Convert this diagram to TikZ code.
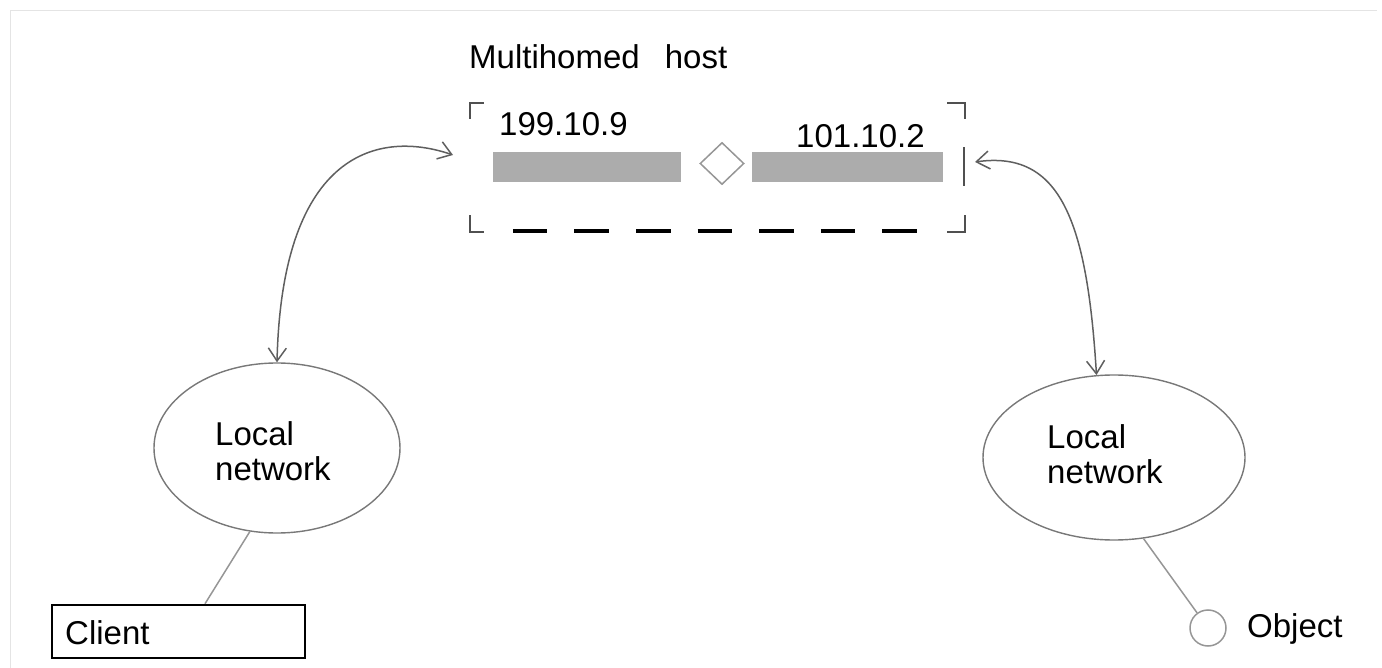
\documentclass[tikz,border=0pt]{standalone}
\usepackage{fontspec}
\setmainfont{Liberation Sans}
\usetikzlibrary{arrows.meta,shapes.geometric}

\definecolor{tickgray}{RGB}{80,80,80}
\definecolor{bargray}{RGB}{172,172,172}
\definecolor{linegray}{RGB}{150,150,150}
\definecolor{curvegray}{RGB}{95,95,95}
\definecolor{edgegray}{RGB}{120,120,120}
\definecolor{framegray}{RGB}{228,228,228}

\begin{document}
\begin{tikzpicture}[x=1pt,y=-1pt,
  label/.style={font=\fontsize{33}{35}\selectfont, inner sep=0pt, anchor=base west},
  cornertick/.style={draw=tickgray, line width=2pt},
  basedash/.style={draw=black, line width=3.5pt},
  ifbar/.style={rectangle, fill=bargray, draw=none, inner sep=0pt},
  joint/.style={diamond, draw=linegray, line width=1.5pt, fill=white, inner sep=0pt,
    minimum width=44pt, minimum height=42pt},
  lan/.style={ellipse, draw=edgegray, line width=1.4pt, inner sep=0pt},
  link/.style={draw=curvegray, line width=1.5pt,
    {Straight Barb[length=13pt,width=18pt]}-{Straight Barb[length=13pt,width=18pt]}},
  wire/.style={draw=linegray, line width=1.5pt},
  clientbox/.style={rectangle, draw=black, line width=2.5pt, minimum width=253pt,
    minimum height=53pt, inner sep=0pt},
  objdot/.style={circle, draw=linegray, line width=1.5pt, minimum size=36pt, inner sep=0pt}]

\useasboundingbox (0,0) rectangle (1382,668);

% thin frame
\draw[framegray, line width=1pt] (10.5,668) -- (10.5,11) -- (1377,11);

% multihomed host with its two interfaces
\node[label] (hosttitle) at (469,69) {Multihomed\hspace{16pt} host};
\node[rectangle, draw=none, inner sep=0pt, minimum width=495pt, minimum height=129pt]
  (host) at (717.5,167.5) {};

\draw[cornertick] (host.north west) ++(0,16) -- ++(0,-16) -- ++(14,0);
\draw[cornertick] (host.north east) ++(-18,0) -- ++(18,0) -- ++(0,16);
\draw[cornertick] (host.south west) ++(0,-17) -- ++(0,17) -- ++(14,0);
\draw[cornertick] (host.south east) ++(-18,0) -- ++(18,0) -- ++(0,-17);
\draw[cornertick] (host.east) ++(-1,-20) -- ++(0,39);
\foreach \i in {0,...,6}
  \draw[basedash] (host.south west) ++(43+61.6*\i,-1) -- ++(34.5,0);

\node[ifbar, minimum width=188pt, minimum height=30pt] (barL) at (587,166.7) {};
\node[ifbar, minimum width=191pt, minimum height=30pt] (barR) at (847.5,166.7) {};
\node[joint] (hub) at (722,163.5) {};
\node[label] (ipL) at (499,136) {199.10.9};
\node[label] (ipR) at (796,148) {101.10.2};

\coordinate (hostW) at (453,155);
\coordinate (hostE) at (975,162);

% local networks
\node[lan, minimum width=246pt, minimum height=170pt] (netL) at (277,448) {};
\node[lan, minimum width=262pt, minimum height=165pt] (netR) at (1114,457.5) {};
\node[label, align=left] (netLtext) at (215,480) {Local\\network};
\node[label, align=left] (netRtext) at (1047,483) {Local\\network};

% links between host and networks
\draw[link] (netL.north) .. controls (282,150) and (380,130) .. (hostW);
\draw[link] (netR.102) .. controls (1087,220) and (1060,150) .. (hostE);

% client and object
\node[clientbox] (client) at (178.5,631.5) {};
\node[label] (clienttext) at (65,644) {Client};
\node[objdot] (obj) at (1208,628) {};
\node[label] (objtext) at (1247,637) {Object};

\draw[wire] (netL.252) -- ([xshift=26.5pt]client.north);
\draw[wire] (netR.290) -- (obj);
\end{tikzpicture}
\end{document}
